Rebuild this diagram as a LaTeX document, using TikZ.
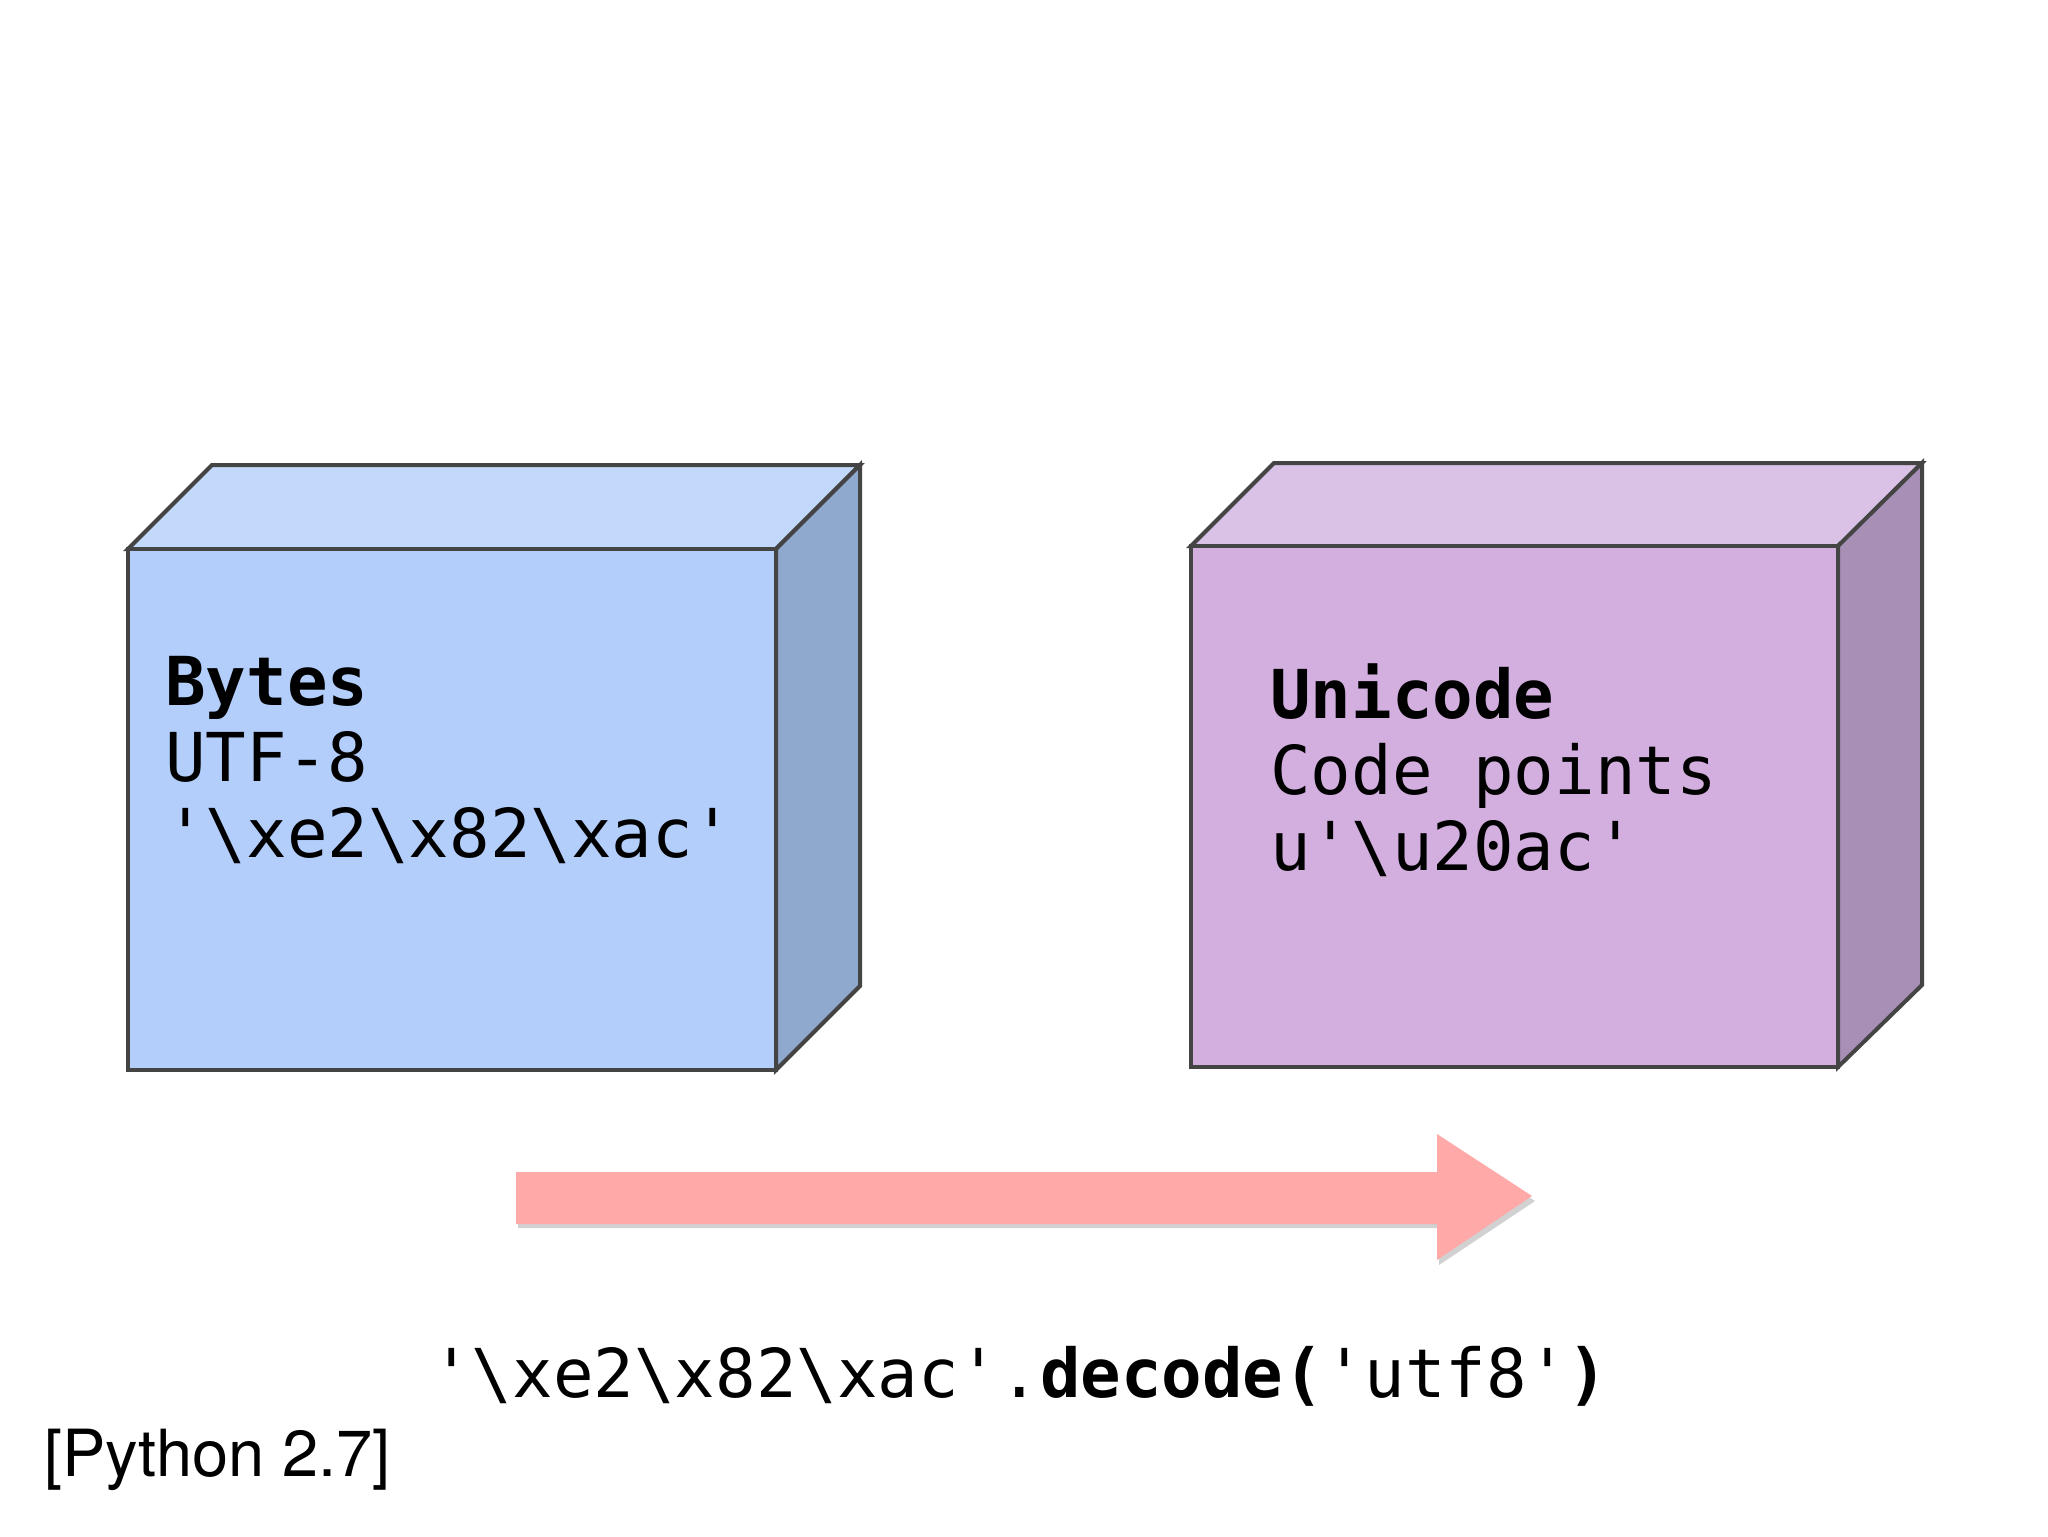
\documentclass[tikz,border=0pt]{standalone}
\usepackage{fontspec}
\setmonofont{DejaVu Sans Mono}
\setsansfont{TeX Gyre Heros}
\definecolor{bfront}{HTML}{B3CEFB}
\definecolor{btop}{HTML}{C2D9FC}
\definecolor{bside}{HTML}{8FA8CE}
\definecolor{pfront}{HTML}{D3AFDF}
\definecolor{ptop}{HTML}{DAC1E6}
\definecolor{pside}{HTML}{A78FB5}
\definecolor{edge}{HTML}{444444}
\definecolor{arrowc}{HTML}{FFA9A9}
\tikzset{
  face/.style={draw=edge, line width=2pt, line join=miter},
  boxtext/.style={anchor=base west, inner sep=0pt, font=\fontsize{33.7pt}{38pt}\selectfont\ttfamily},
}
\begin{document}
\begin{tikzpicture}[x=0.5pt,y=-0.5pt]
\useasboundingbox (0,0) rectangle (2048,1536);
\fill[white] (0,0) rectangle (2048,1536);
% left cube
\filldraw[face, fill=btop] (128,549) -- (212,465) -- (860,465) -- (776,549) -- cycle;
\filldraw[face, fill=bside] (776,549) -- (860,465) -- (860,986) -- (776,1070) -- cycle;
\filldraw[face, fill=bfront] (128,549) rectangle (776,1070);
% right cube
\filldraw[face, fill=ptop] (1191,546) -- (1274,463) -- (1922,463) -- (1838,546) -- cycle;
\filldraw[face, fill=pside] (1838,546) -- (1922,463) -- (1922,985) -- (1838,1067) -- cycle;
\filldraw[face, fill=pfront] (1191,546) rectangle (1838,1067);
% texts
\node[boxtext] (b1) at (165,705) {\textbf{Bytes}};
\node[boxtext] (b2) at (165,781) {UTF-8};
\node[boxtext] (b3) at (165,857) {'\textbackslash xe2\textbackslash x82\textbackslash xac'};
\node[boxtext] (u1) at (1270,718) {\textbf{Unicode}};
\node[boxtext] (u2) at (1270,794) {Code points};
\node[boxtext] (u3) at (1270,870) {u'\textbackslash u20ac'};
% arrow shadow and arrow
\fill[black, opacity=0.18] (518,1176) -- (1439,1176) -- (1439,1138) -- (1535,1201) -- (1439,1265) -- (1439,1228) -- (518,1228) -- cycle;
\fill[arrowc] (516,1172) -- (1437,1172) -- (1437,1134) -- (1532,1196) -- (1437,1260) -- (1437,1224) -- (516,1224) -- cycle;
% bottom code
\node[boxtext] (code) at (431,1397) {'\textbackslash xe2\textbackslash x82\textbackslash xac'.\textbf{decode(}'utf8'\textbf{)}};
\node[anchor=base west, inner sep=0pt, font=\fontsize{32.5pt}{36pt}\selectfont\sffamily] (py) at (44,1476) {[Python 2.7]};
\end{tikzpicture}
\end{document}
